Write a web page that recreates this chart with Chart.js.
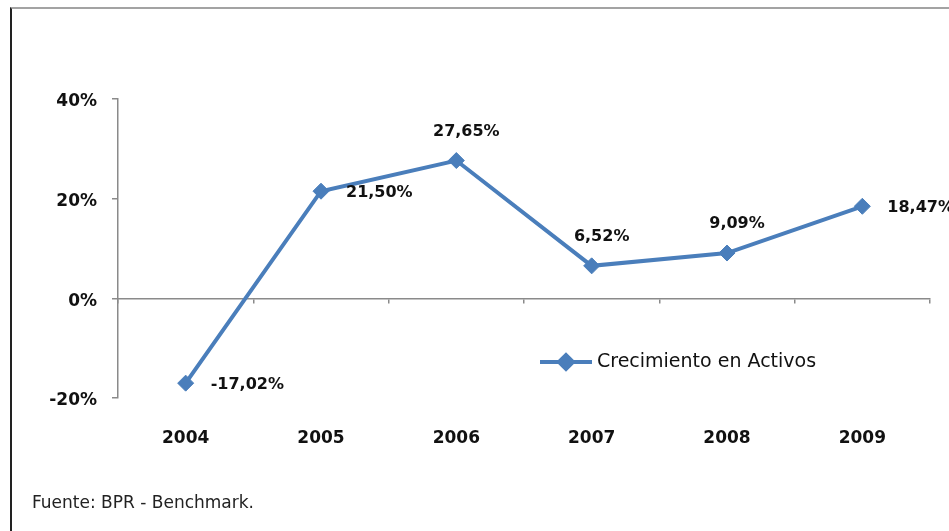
<!DOCTYPE html>
<html>
<head>
<meta charset="utf-8">
<title>Crecimiento en Activos</title>
<script src="https://cdn.jsdelivr.net/npm/chart.js@4.4.1/dist/chart.umd.min.js"></script>
<style>
  html, body { margin: 0; padding: 0; background: #fff; }
  #wrap { position: relative; width: 949px; height: 531px; overflow: hidden; }
  #frame {
    position: absolute; left: 10px; top: 7px; right: -10px; bottom: -10px;
    border-top: 2px solid #a3a3a3; border-left: 2px solid #222;
  }
  #c { position: absolute; left: 0; top: 0; }
  #source {
    position: absolute; left: 32px; top: 492px;
    font: 17px "DejaVu Sans", sans-serif; color: #222;
  }
</style>
</head>
<body>
<div id="wrap">
  <div id="frame"></div>
  <canvas id="c" width="949" height="531"></canvas>
  <div id="source">Fuente: BPR - Benchmark.</div>
</div>
<script>
// data
const years = ["2004", "2005", "2006", "2007", "2008", "2009"];
const growth = [-17.02, 21.50, 27.65, 6.52, 9.09, 18.47];
const yTicks = [-20, 0, 20, 40];
const seriesName = "Crecimiento en Activos";

// where each value label sits relative to its point
const labelSide = ["right", "right", "above", "above", "above", "right"];

const BLUE = "#4a7ebb";
const AXIS = "#8a8a8a";
const INK = "#111";

const fmt = (v) => v.toFixed(2).replace(".", ",") + "%";

// value labels next to the points
const valueLabels = {
  id: "valueLabels",
  afterDatasetsDraw(chart) {
    const ctx = chart.ctx;
    const meta = chart.getDatasetMeta(0);
    ctx.save();
    ctx.font = "bold 16px 'DejaVu Sans', sans-serif";
    ctx.fillStyle = INK;
    ctx.textBaseline = "middle";
    meta.data.forEach((pt, i) => {
      const txt = fmt(growth[i]);
      if (labelSide[i] === "right") {
        ctx.textAlign = "left";
        ctx.fillText(txt, pt.x + 25, pt.y + 2);
      } else {
        ctx.textAlign = "center";
        ctx.fillText(txt, pt.x + 10, pt.y - 29);
      }
    });
    ctx.restore();
  },
};

// legend drawn inside the plot, like the original
const innerLegend = {
  id: "innerLegend",
  afterDraw(chart) {
    const ctx = chart.ctx;
    const area = chart.chartArea;
    const x = area.left + 422;
    const y = area.top + 263;
    ctx.save();
    ctx.strokeStyle = BLUE;
    ctx.lineWidth = 4;
    ctx.beginPath();
    ctx.moveTo(x, y);
    ctx.lineTo(x + 52, y);
    ctx.stroke();
    Chart.helpers.drawPoint(ctx, { pointStyle: "rectRot", radius: 7, borderWidth: 1 }, x + 26, y);
    ctx.fillStyle = BLUE;
    ctx.fill();
    ctx.font = "19px 'DejaVu Sans', sans-serif";
    ctx.fillStyle = INK;
    ctx.textAlign = "left";
    ctx.textBaseline = "middle";
    ctx.fillText(seriesName, x + 57, y);
    ctx.restore();
  },
};

new Chart(document.getElementById("c"), {
  type: "line",
  data: {
    labels: years,
    datasets: [
      {
        label: seriesName,
        data: growth,
        xAxisID: "x",
        yAxisID: "y",
        borderColor: BLUE,
        backgroundColor: BLUE,
        borderWidth: 4,
        pointStyle: "rectRot",
        pointRadius: 8,
        pointBorderWidth: 1,
        pointBorderColor: BLUE,
        pointBackgroundColor: BLUE,
        tension: 0,
      },
    ],
  },
  options: {
    responsive: false,
    animation: false,
    devicePixelRatio: 1,
    layout: { padding: { left: 0, right: 19, top: 99, bottom: 73 } },
    plugins: {
      legend: { display: false },
      tooltip: { enabled: false },
    },
    scales: {
      // zero line with the category tick marks hanging below it
      x: {
        type: "category",
        position: { y: 0 },
        offset: true,
        ticks: { display: false },
        grid: {
          offset: true,
          drawOnChartArea: false,
          drawTicks: true,
          tickLength: 4,
          color: AXIS,
          lineWidth: 1.5,
        },
        border: { color: AXIS, width: 1.5 },
        afterFit: (s) => { s.height = 0; },
      },
      // year labels along the bottom
      xb: {
        type: "category",
        position: "bottom",
        offset: true,
        grid: { display: false, drawTicks: false },
        border: { display: false },
        ticks: {
          color: INK,
          font: { family: "DejaVu Sans", size: 17, weight: "bold" },
          padding: 30,
        },
        afterFit: (s) => { s.height = 60; },
      },
      y: {
        min: yTicks[0],
        max: yTicks[yTicks.length - 1],
        afterBuildTicks: (s) => { s.ticks = yTicks.map((v) => ({ value: v })); },
        ticks: {
          color: INK,
          font: { family: "DejaVu Sans", size: 17, weight: "bold" },
          padding: 15,
          labelOffset: 3,
          callback: (v) => v + "%",
        },
        grid: {
          drawOnChartArea: false,
          drawTicks: true,
          tickLength: 6,
          color: AXIS,
          lineWidth: 1.5,
        },
        border: { color: AXIS, width: 1.5 },
        afterFit: (s) => { s.width = 118; },
      },
    },
  },
  plugins: [valueLabels, innerLegend],
});
</script>
</body>
</html>
